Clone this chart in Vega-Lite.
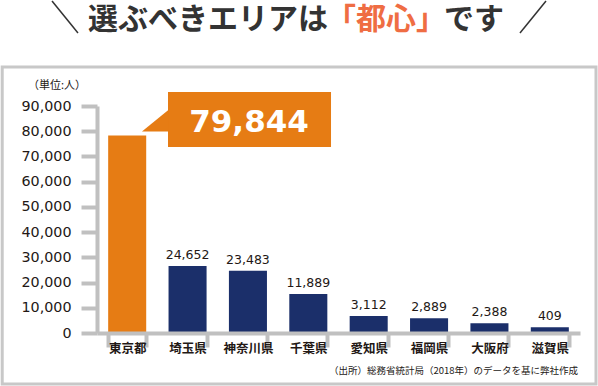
{
  "$schema": "https://vega.github.io/schema/vega-lite/v6.json",
  "width": 483,
  "height": 227,
  "autosize": {"type": "none"},
  "padding": {"left": 97, "top": 106, "right": 18, "bottom": 53},
  "background": "#ffffff",
  "config": {"view": {"stroke": null}},
  "datasets": {
    "pref": [
      {"pref": "東京都", "bar": 78300, "population": 79844},
      {"pref": "埼玉県", "bar": 26560, "population": 24652},
      {"pref": "神奈川県", "bar": 24700, "population": 23483},
      {"pref": "千葉県", "bar": 15460, "population": 11889},
      {"pref": "愛知県", "bar": 6740, "population": 3112},
      {"pref": "福岡県", "bar": 5830, "population": 2889},
      {"pref": "大阪府", "bar": 3850, "population": 2388},
      {"pref": "滋賀県", "bar": 2260, "population": 409}
    ]
  },
  "layer": [
    {
      "data": {"name": "pref"},
      "encoding": {
        "x": {
          "field": "pref", "type": "nominal", "sort": null,
          "scale": {"paddingInner": 0.37, "paddingOuter": 0.185},
          "axis": {
            "title": null, "labelAngle": 0, "zindex": 1,
            "domainColor": "#c0c0c0", "domainWidth": 4,
            "tickColor": "#c0c0c0", "tickWidth": 4, "tickSize": 14, "tickBand": "extent",
            "labelFont": "Noto Sans CJK JP", "labelFontWeight": "bold", "labelFontSize": 12.5,
            "labelColor": "#231815", "labelBaseline": "middle", "labelPadding": 1
          }
        },
        "y": {
          "field": "bar", "type": "quantitative",
          "scale": {"domain": [0, 90000], "nice": false},
          "axis": {
            "title": null, "grid": false, "zindex": 1,
            "values": [0, 10000, 20000, 30000, 40000, 50000, 60000, 70000, 80000, 90000],
            "format": ",.0f",
            "domainColor": "#c0c0c0", "domainWidth": 4,
            "tickColor": "#c0c0c0", "tickWidth": 4, "tickSize": 16,
            "labelFont": "DejaVu Sans", "labelFontSize": 14.3, "labelColor": "#231815",
            "labelPadding": 10
          }
        }
      },
      "layer": [
        {
          "mark": {"type": "bar"},
          "encoding": {
            "color": {
              "condition": {"test": "datum.pref === '東京都'", "value": "#e67c14"},
              "value": "#1b2f6a"
            }
          }
        },
        {
          "transform": [{"filter": "datum.pref !== '東京都'"}],
          "mark": {"type": "text", "font": "DejaVu Sans", "fontSize": 12.5, "color": "#231815", "baseline": "alphabetic", "dy": -7},
          "encoding": {"text": {"field": "population", "type": "quantitative", "format": ",.0f"}}
        }
      ]
    },
    {
      "data": {"values": [{}]},
      "layer": [
        {
          "mark": {"type": "rect", "fill": null, "filled": false, "stroke": "#c8c8c8", "strokeWidth": 3},
          "encoding": {
            "x": {"datum": -1.57, "type": "quantitative", "scale": {"domain": [0, 8], "nice": false, "zero": false}, "axis": null},
            "x2": {"datum": 8.265},
            "y": {"datum": 105460, "type": "quantitative", "scale": {"domain": [0, 90000], "nice": false}, "axis": null},
            "y2": {"datum": -20220}
          }
        },
        {
          "mark": {"type": "rect", "fill": "#e67c14"},
          "encoding": {
            "x": {"datum": 1.176, "type": "quantitative", "scale": {"domain": [0, 8], "nice": false, "zero": false}, "axis": null},
            "x2": {"datum": 3.876},
            "y": {"datum": 95550, "type": "quantitative", "scale": {"domain": [0, 90000], "nice": false}, "axis": null},
            "y2": {"datum": 73745}
          }
        },
        {
          "mark": {"type": "point", "filled": true, "fill": "#e67c14", "opacity": 1, "strokeWidth": 0, "shape": "M-1,0.82L1,-0.82L1,0.82Z", "size": 729},
          "encoding": {
            "x": {"datum": 0.968, "type": "quantitative", "scale": {"domain": [0, 8], "nice": false, "zero": false}, "axis": null},
            "y": {"datum": 84250, "type": "quantitative", "scale": {"domain": [0, 90000], "nice": false}, "axis": null}
          }
        },
        {
          "mark": {"type": "text", "text": "79,844", "font": "DejaVu Sans", "fontWeight": "bold", "fontSize": 31, "color": "#ffffff", "align": "center", "baseline": "alphabetic"},
          "encoding": {
            "x": {"datum": 2.518, "type": "quantitative", "scale": {"domain": [0, 8], "nice": false, "zero": false}, "axis": null},
            "y": {"datum": 79810, "type": "quantitative", "scale": {"domain": [0, 90000], "nice": false}, "axis": null}
          }
        },
        {
          "mark": {"type": "text", "text": "選ぶべきエリアは", "font": "Noto Sans CJK JP", "fontWeight": "bold", "fontSize": 30, "color": "#333333", "align": "right", "baseline": "alphabetic"},
          "encoding": {
            "x": {"datum": 3.826, "type": "quantitative", "scale": {"domain": [0, 8], "nice": false, "zero": false}, "axis": null},
            "y": {"datum": 120530, "type": "quantitative", "scale": {"domain": [0, 90000], "nice": false}, "axis": null}
          }
        },
        {
          "mark": {"type": "text", "text": "「都心」", "font": "Noto Sans CJK JP", "fontWeight": "bold", "fontSize": 30, "color": "#ef6d43", "align": "center", "baseline": "alphabetic"},
          "encoding": {
            "x": {"datum": 4.787, "type": "quantitative", "scale": {"domain": [0, 8], "nice": false, "zero": false}, "axis": null},
            "y": {"datum": 120530, "type": "quantitative", "scale": {"domain": [0, 90000], "nice": false}, "axis": null}
          }
        },
        {
          "mark": {"type": "text", "text": "です", "font": "Noto Sans CJK JP", "fontWeight": "bold", "fontSize": 30, "color": "#333333", "align": "left", "baseline": "alphabetic"},
          "encoding": {
            "x": {"datum": 5.747, "type": "quantitative", "scale": {"domain": [0, 8], "nice": false, "zero": false}, "axis": null},
            "y": {"datum": 120530, "type": "quantitative", "scale": {"domain": [0, 90000], "nice": false}, "axis": null}
          }
        },
        {
          "mark": {"type": "rule", "color": "#333333", "strokeWidth": 1.5},
          "encoding": {
            "x": {"datum": -0.745, "type": "quantitative", "scale": {"domain": [0, 8], "nice": false, "zero": false}, "axis": null},
            "x2": {"datum": -0.315},
            "y": {"datum": 131630, "type": "quantitative", "scale": {"domain": [0, 90000], "nice": false}, "axis": null},
            "y2": {"datum": 118950}
          }
        },
        {
          "mark": {"type": "rule", "color": "#333333", "strokeWidth": 1.5},
          "encoding": {
            "x": {"datum": 7.006, "type": "quantitative", "scale": {"domain": [0, 8], "nice": false, "zero": false}, "axis": null},
            "x2": {"datum": 7.437},
            "y": {"datum": 118950, "type": "quantitative", "scale": {"domain": [0, 90000], "nice": false}, "axis": null},
            "y2": {"datum": 131630}
          }
        },
        {
          "mark": {"type": "text", "text": "（単位:人）", "font": "Noto Sans CJK JP", "fontSize": 11, "color": "#231815", "align": "center", "baseline": "alphabetic"},
          "encoding": {
            "x": {"datum": -0.6625, "type": "quantitative", "scale": {"domain": [0, 8], "nice": false, "zero": false}, "axis": null},
            "y": {"datum": 96740, "type": "quantitative", "scale": {"domain": [0, 90000], "nice": false}, "axis": null}
          }
        },
        {
          "mark": {"type": "text", "text": "（出所）総務省統計局（2018年）のデータを基に弊社作成", "font": "Noto Sans CJK JP", "fontSize": 9.5, "color": "#231815", "align": "right", "baseline": "alphabetic"},
          "encoding": {
            "x": {"datum": 7.967, "type": "quantitative", "scale": {"domain": [0, 8], "nice": false, "zero": false}, "axis": null},
            "y": {"datum": -16260, "type": "quantitative", "scale": {"domain": [0, 90000], "nice": false}, "axis": null}
          }
        }
      ]
    }
  ],
  "resolve": {"scale": {"x": "independent"}, "axis": {"x": "independent", "y": "independent"}}
}
